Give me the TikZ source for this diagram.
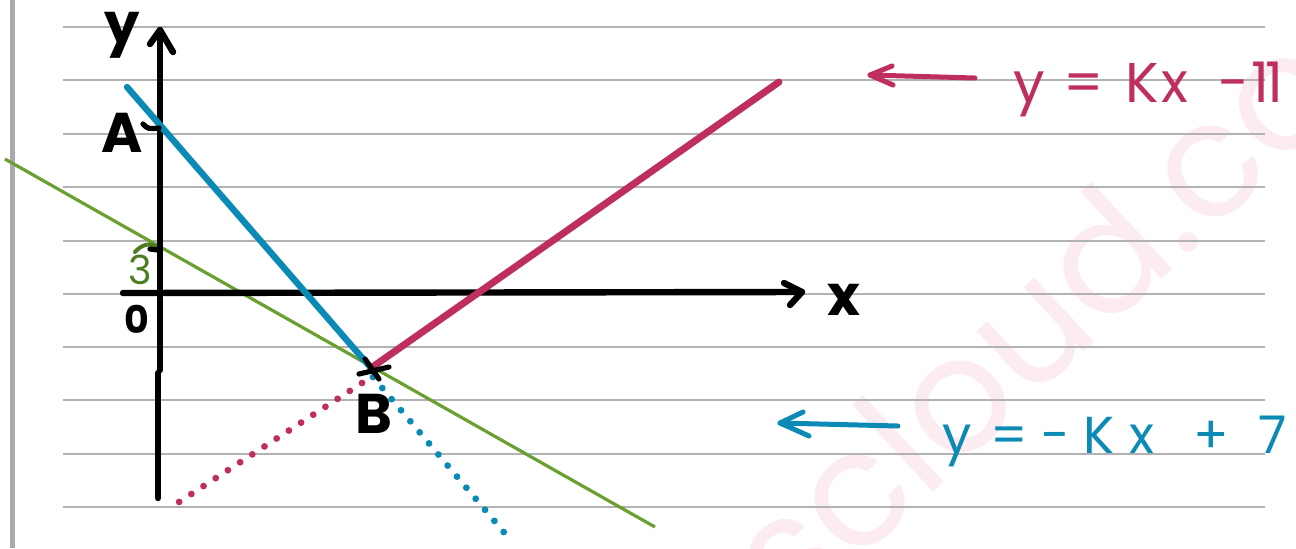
\documentclass[tikz,border=0pt]{standalone}
\usepackage{fontspec}
\setmainfont{Poppins}
\definecolor{crim}{HTML}{BF2F5E}
\definecolor{tblue}{HTML}{0A8AB4}
\definecolor{lgreen}{HTML}{6AA032}
\definecolor{dgreen}{HTML}{4E7D24}
\definecolor{rulegray}{HTML}{B2B2B2}
\definecolor{bargray}{HTML}{A9A9AF}
\definecolor{wmpink}{HTML}{FDEBF2}
\begin{document}
\begin{tikzpicture}[x=0.5pt,y=-0.5pt,
  ruled/.style={draw=rulegray,line width=1pt},
  axisline/.style={line width=3.2pt,line cap=round,line join=round,black},
  handmark/.style={line width=2.6pt,line cap=round,line join=round},
  solidcrim/.style={crim,line width=3.5pt,line cap=round},
  solidblue/.style={tblue,line width=3.2pt,line cap=round},
  dotcrim/.style={crim,line width=3.4pt,line cap=round,dash pattern=on 0pt off 7.27pt},
  dotblue/.style={tblue,line width=3.4pt,line cap=round,dash pattern=on 0pt off 7.24pt},
  greenline/.style={lgreen,line width=1.6pt},
  ptlabel/.style={font=\bfseries\fontsize{28}{30}\selectfont,inner sep=0pt},
  smalllabel/.style={font=\bfseries\fontsize{19}{21}\selectfont,inner sep=0pt},
  eqlabel/.style={inner sep=0pt,anchor=base west},
  arrowline/.style={line width=2.5pt,line cap=round,line join=round}
]
\useasboundingbox (0,0) rectangle (1296,548);

% watermark
\node[rotate=43,anchor=base west,inner sep=0pt,text=wmpink,
      font=\fontsize{80}{80}\selectfont] (wm) at (792,624) {scloud.com};

% ruled paper
\foreach \yy in {27,80,134,187,241,294,347,400,454,507}
  \draw[ruled] (63,\yy) -- (1265,\yy);
\fill[bargray] (10,0) rectangle (15,548);

% key points
\coordinate (ytop) at (160,30);
\coordinate (ykink) at (160,370);
\coordinate (ykink2) at (158,373);
\coordinate (ybot) at (158,498);
\coordinate (xleft) at (123,293);
\coordinate (xright) at (802,292);
\coordinate (B) at (371,368);
\coordinate (blueStart) at (127,87);
\coordinate (crimEnd) at (779,82);
\coordinate (blueDot1) at (373,377);
\coordinate (blueDotN) at (513,543);
\coordinate (crimDot1) at (362,383);
\coordinate (crimDotN) at (179,502);
\coordinate (gStart) at (5,159);
\coordinate (gEnd) at (655,527);

% green line
\draw[greenline] (gStart) -- (gEnd);

% axes
\draw[axisline] (ytop) -- (ykink);
\draw[axisline] (ykink2) -- (ybot);
\draw[axisline] (150,44) -- (ytop) -- (173,52);
\draw[axisline] (xleft) -- (xright);
\draw[axisline] (784,283) -- (xright) -- (790,305);

% lines
\draw[solidblue] (blueStart) -- (B);
\draw[solidcrim] (B) -- (crimEnd);
\draw[dotblue] (blueDot1) -- (blueDotN);
\draw[dotcrim] (crimDot1) -- (crimDotN);

% marks
\draw[handmark,black] (359,374) -- (389,367);
\draw[handmark,black] (365,359) -- (379,379);
\draw[handmark,black] (143,124) .. controls (148,129) .. (159,128);
\draw[handmark,dgreen,line width=2pt] (135,252) .. controls (142,244) and (150,243) .. (155,246);
\draw[handmark,black] (150,249) -- (158,250);

% labels
\node[ptlabel] (ylab) at (122,35) {y};
\node[ptlabel] (xlab) at (844,300) {x};
\node[ptlabel] (Alab) at (122,133) {A};
\node[ptlabel] (Blab) at (374,414) {B};
\node[smalllabel] (zlab) at (137,319) {0};
\node[smalllabel,font=\fontsize{20}{22}\selectfont,text=dgreen] (tlab) at (140,270) {3};

% equations
\node[eqlabel,text=crim,font=\fontsize{28}{30}\selectfont] (eq1) at (1013,102)
  {\makebox[25pt][l]{y }\makebox[31pt][l]{= }\makebox[18pt][l]{K}\makebox[28pt][l]{x }\makebox[17pt][l]{−}1\kern-2pt 1};
\node[eqlabel,text=tblue,font=\fontsize{26}{28}\selectfont] (eq2) at (942,453)
  {\makebox[24pt][l]{y }\makebox[25pt][l]{= }\makebox[21.5pt][l]{−}\makebox[23pt][l]{K}\makebox[32pt][l]{x }\makebox[32.5pt][l]{+ }7};

% pointer arrows
\coordinate (c1tail) at (975,78);
\coordinate (c1tip) at (870,75);
\draw[arrowline,crim] (c1tail) -- (c1tip);
\draw[arrowline,crim] (892,66) -- (c1tip) -- (893,85);
\coordinate (b1tail) at (898,426);
\coordinate (b1tip) at (780,423);
\draw[arrowline,tblue] (b1tail) -- (b1tip);
\draw[arrowline,tblue] (803,412) -- (b1tip) -- (809,436);
\end{tikzpicture}
\end{document}
